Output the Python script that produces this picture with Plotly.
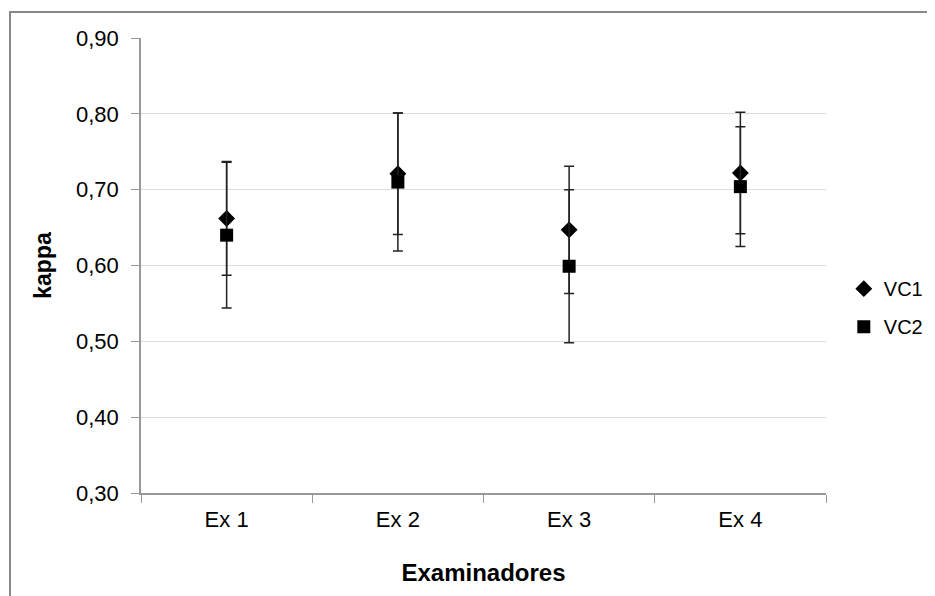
import plotly.graph_objects as go

categories = ["Ex 1", "Ex 2", "Ex 3", "Ex 4"]
vc1 = [0.662, 0.721, 0.647, 0.722]
vc1_err = [0.075, 0.080, 0.084, 0.080]
vc2 = [0.640, 0.710, 0.599, 0.704]
vc2_err = [0.096, 0.091, 0.101, 0.079]
y_ticks = [0.30, 0.40, 0.50, 0.60, 0.70, 0.80, 0.90]
y_labels = ["0,30", "0,40", "0,50", "0,60", "0,70", "0,80", "0,90"]

FONT = "Liberation Sans, Arial, sans-serif"

fig = go.Figure()
fig.add_trace(go.Scatter(
    x=categories, y=vc1, mode="markers", name="VC1", legendgroup="a",
    marker=dict(symbol="diamond", size=13, color="black"),
    error_y=dict(type="data", array=vc1_err, visible=True, color="#222222",
                 thickness=1.5, width=5),
))
fig.add_trace(go.Scatter(
    x=categories, y=vc2, mode="markers", name="VC2", legendgroup="b",
    marker=dict(symbol="square", size=13, color="black"),
    error_y=dict(type="data", array=vc2_err, visible=True, color="#222222",
                 thickness=1.5, width=5),
))

W, H = 927, 588
L, T, R, B = 133, 30, 109, 103
PW, PH = W - L - R, H - T - B

fig.update_layout(
    width=W, height=H,
    margin=dict(l=L, r=R, t=T, b=B, autoexpand=False),
    paper_bgcolor="white", plot_bgcolor="white",
    font=dict(family=FONT, size=22, color="black"),
    showlegend=True,
    legend=dict(x=1.026, y=0.492, xanchor="left", yanchor="top",
                font=dict(size=20), tracegroupgap=9, itemwidth=30,
                bgcolor="rgba(0,0,0,0)"),
    xaxis=dict(
        type="category", range=[-0.5, 3.5], tickson="boundaries",
        ticks="outside", ticklen=8, tickcolor="#999999", tickwidth=1,
        showline=True, linecolor="#999999", linewidth=1.5,
        showgrid=False, ticklabelstandoff=6,
        title=dict(text="<b>Examinadores</b>", standoff=33, font=dict(size=24)),
    ),
    yaxis=dict(
        range=[0.3, 0.9], tickvals=y_ticks, ticktext=y_labels,
        ticks="outside", ticklen=8, tickcolor="#999999", tickwidth=1,
        showline=True, linecolor="#999999", linewidth=1.5,
        showgrid=True, gridcolor="#dcdcdc", gridwidth=1, zeroline=False,
        ticklabelstandoff=8,
        title=dict(text="<b>kappa</b>", standoff=18, font=dict(size=23)),
    ),
)

fig.add_shape(type="rect", xref="paper", yref="paper",
              x0=-(L - 2) / PW, x1=(W - L + 40) / PW,
              y0=-(B + 40) / PH, y1=1 + (T - 4) / PH,
              line=dict(color="#888888", width=2), fillcolor="rgba(0,0,0,0)",
              layer="below")

fig.write_html("out.html")
